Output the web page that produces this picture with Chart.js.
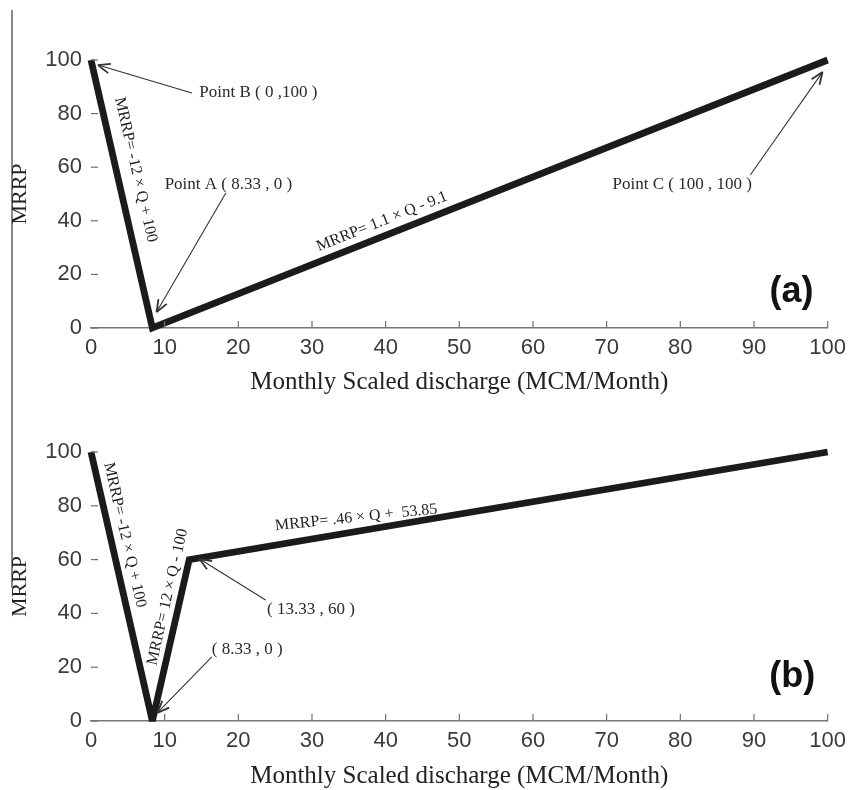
<!DOCTYPE html>
<html>
<head>
<meta charset="utf-8">
<script src="https://cdn.jsdelivr.net/npm/chart.js@4.4.0/dist/chart.umd.min.js"></script>
<style>
  body { margin: 0; background: #fff; }
  #wrap { position: relative; width: 853px; height: 790px; }
  canvas { position: absolute; left: 0; }
  #chartA { top: 0; }
  #chartB { top: 395px; }
  #edge { position: absolute; left: 11px; top: 10px; width: 2px; height: 578px; background: #8a8a8a; }
</style>
</head>
<body>
<div id="wrap">
  <div id="edge"></div>
  <canvas id="chartA" width="853" height="395"></canvas>
  <canvas id="chartB" width="853" height="395"></canvas>
</div>
<script>
const xTitle = 'Monthly Scaled discharge (MCM/Month)';
const yTitle = 'MRRP';

// panel (a)
const qA = [0, 8.33, 100];
const mrrpA = [100, 0, 100];

// panel (b)
const qB = [0, 8.33, 13.33, 100];
const mrrpB = [100, 0, 60, 100];

const xTickStep = 10;
const yTickStep = 20;

// annotations, placed in data units (Q, MRRP)
let notesA = {
    labels: [
        { text: 'Point B ( 0 ,100 )', x: 14.7, y: 87.7 },
        { text: 'Point A ( 8.33 , 0 )', x: 10.0, y: 53.4 },
        { text: 'Point C ( 100 , 100 )', x: 70.8, y: 53.4 }
    ],
    arrows: [
        { from: [13.7, 87.7], to: [0.95, 98.1] },
        { from: [18.3, 50.4], to: [8.9, 6.0] },
        { from: [89.5, 57.1], to: [99.3, 95.5] }
    ],
    eqs: [
        { text: 'MRRP= -12 \u00d7 Q + 100', x: 6.06, y: 59, seg: 0 },
        { text: 'MRRP= 1.1 \u00d7 Q - 9.1', x: 39.5, y: 39.7, seg: 1 }
    ],
    tag: { text: '(a)', x: 95.1, y: 13.4 }
};

let notesB = {
    labels: [
        { text: '( 13.33 , 60 )', x: 23.9, y: 41.3 },
        { text: '( 8.33 , 0 )', x: 16.4, y: 26.4 }
    ],
    arrows: [
        { from: [23.7, 45], to: [14.7, 60.3] },
        { from: [16.4, 23.8], to: [9.0, 3.0] }
    ],
    eqs: [
        { text: 'MRRP= -12 \u00d7 Q + 100', x: 4.58, y: 69.1, seg: 0 },
        { text: 'MRRP= 12 \u00d7 Q - 100', x: 10.4, y: 46.1, seg: 1 },
        { text: 'MRRP= .46 \u00d7 Q +  53.85', x: 36.0, y: 75.6, angle: -6 }
    ],
    tag: { text: '(b)', x: 95.2, y: 16.2 }
};

let drawArrow = function (ctx, x1, y1, x2, y2) {
    let a = Math.atan2(y2 - y1, x2 - x1);
    ctx.lineWidth = 1.1;
    ctx.beginPath();
    ctx.moveTo(x1, y1);
    ctx.lineTo(x2, y2);
    ctx.stroke();
    ctx.lineWidth = 1.8;
    ctx.beginPath();
    ctx.moveTo(x2 - 13 * Math.cos(a - 0.38), y2 - 13 * Math.sin(a - 0.38));
    ctx.lineTo(x2, y2);
    ctx.lineTo(x2 - 13 * Math.cos(a + 0.38), y2 - 13 * Math.sin(a + 0.38));
    ctx.stroke();
};

let notesPlugin = function (notes) {
    return {
        id: 'notes',
        beforeDatasetsDraw: function (chart) {
            chart.ctx.miterLimit = 1.6;
        },
        afterDraw: function (chart) {
            let ctx = chart.ctx;
            let xs = chart.scales.x, ys = chart.scales.y;
            let px = v => xs.getPixelForValue(v);
            let py = v => ys.getPixelForValue(v);
            let pts = chart.getDatasetMeta(0).data;
            ctx.save();

            // inward tick marks
            ctx.strokeStyle = '#707070';
            ctx.lineWidth = 1.2;
            xs.ticks.forEach(function (t) {
                if (t.value === 0) return;
                let x = px(t.value);
                ctx.beginPath();
                ctx.moveTo(x, ys.bottom);
                ctx.lineTo(x, ys.bottom - 7);
                ctx.stroke();
            });
            ys.ticks.forEach(function (t) {
                let y = py(t.value);
                ctx.beginPath();
                ctx.moveTo(xs.left, y);
                ctx.lineTo(xs.left + 7, y);
                ctx.stroke();
            });

            // arrows
            ctx.strokeStyle = '#333';
            notes.arrows.forEach(function (a) {
                drawArrow(ctx, px(a.from[0]), py(a.from[1]), px(a.to[0]), py(a.to[1]));
            });

            // point labels
            ctx.fillStyle = '#2a2a2a';
            ctx.font = '17px "Liberation Serif"';
            ctx.textAlign = 'left';
            ctx.textBaseline = 'middle';
            notes.labels.forEach(function (l) {
                ctx.fillText(l.text, px(l.x), py(l.y));
            });

            // equations along the segments
            ctx.fillStyle = '#1e1e1e';
            ctx.font = '16px "Liberation Serif"';
            ctx.textAlign = 'center';
            notes.eqs.forEach(function (e) {
                let ang;
                if (e.angle !== undefined) {
                    ang = e.angle * Math.PI / 180;
                } else {
                    let p0 = pts[e.seg], p1 = pts[e.seg + 1];
                    ang = Math.atan2(p1.y - p0.y, p1.x - p0.x);
                }
                ctx.save();
                ctx.translate(px(e.x), py(e.y));
                ctx.rotate(ang);
                ctx.fillText(e.text, 0, 0);
                ctx.restore();
            });

            // panel tag
            ctx.fillStyle = '#111';
            ctx.font = 'bold 36px "Liberation Sans"';
            ctx.fillText(notes.tag.text, px(notes.tag.x), py(notes.tag.y));
            ctx.restore();
        }
    };
};

let makeChart = function (id, q, mrrp, notes, area) {
    let ctx = document.getElementById(id).getContext('2d');
    return new Chart(ctx, {
        type: 'line',
        data: {
            datasets: [{
                data: q.map((v, i) => ({ x: v, y: mrrp[i] })),
                borderColor: '#1b1b1b',
                borderWidth: 6.8,
                pointRadius: 0,
                borderJoinStyle: 'miter',
                borderCapStyle: 'butt',
                tension: 0,
                clip: false
            }]
        },
        options: {
            responsive: false,
            animation: false,
            devicePixelRatio: 1,
            layout: { padding: { top: area.top, right: 20, left: 0, bottom: 0 } },
            plugins: {
                legend: { display: false },
                tooltip: { enabled: false }
            },
            scales: {
                x: {
                    type: 'linear',
                    min: 0,
                    max: 100,
                    afterFit: function (s) { s.height = area.xh; },
                    ticks: {
                        stepSize: xTickStep,
                        padding: 7,
                        color: '#3a3a3a',
                        font: { family: 'Liberation Sans', size: 22 }
                    },
                    grid: { display: false, drawTicks: false },
                    border: { display: true, color: '#777', width: 1.5 },
                    title: {
                        display: true,
                        text: xTitle,
                        color: '#222',
                        font: { family: 'Liberation Serif', size: 25, lineHeight: 1 },
                        padding: { top: 0, bottom: area.tb }
                    }
                },
                y: {
                    type: 'linear',
                    min: 0,
                    max: 100,
                    afterFit: function (s) { s.width = 91; },
                    ticks: {
                        stepSize: yTickStep,
                        padding: 9,
                        color: '#3a3a3a',
                        font: { family: 'Liberation Sans', size: 22 }
                    },
                    grid: { display: false, drawTicks: false },
                    border: { display: false },
                    title: {
                        display: true,
                        text: yTitle,
                        color: '#222',
                        font: { family: 'Liberation Serif', size: 22, lineHeight: 1 },
                        padding: { top: 9, bottom: 0 }
                    }
                }
            }
        },
        plugins: [notesPlugin(notes)]
    });
};

window.chartA = makeChart('chartA', qA, mrrpA, notesA, { top: 60, xh: 67, tb: 0 });
window.chartB = makeChart('chartB', qB, mrrpB, notesB, { top: 57, xh: 69, tb: 1 });
</script>
</body>
</html>
